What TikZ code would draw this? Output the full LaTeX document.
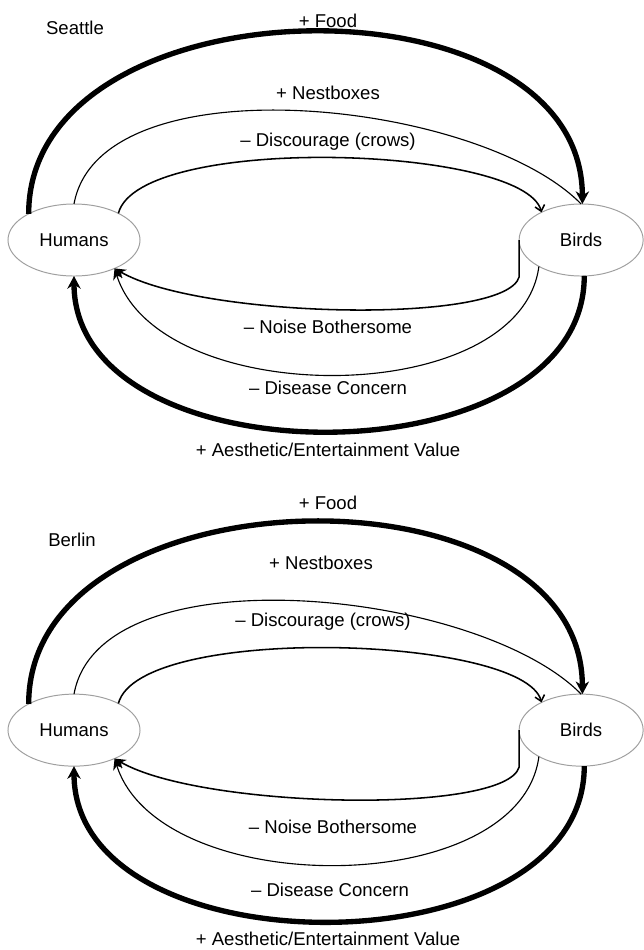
\documentclass[tikz,border=0pt]{standalone}
\usepackage{fontspec}
\setmainfont{Liberation Sans}
\usetikzlibrary{arrows.meta, positioning, shapes.geometric}
\tikzset{
    >=Stealth, % default arrow tip
    actor/.style={ellipse, draw=gray!75, line width=0.7pt, inner sep=0pt, outer sep=0pt, minimum width=3.3cm, minimum height=1.8cm}, % the two actors
    heavy/.style={line width=3.8pt, -{Stealth[length=9pt,width=9.5pt]}}, % strong links
    plain/.style={line width=1.1pt, -{Stealth[length=8pt,width=7pt]}}, % normal links
    faint/.style={line width=0.8pt, -{Stealth[length=8pt,width=7pt]}}, % weak links
    merged/.style={line width=0.8pt}, % runs into another tip
    barb/.style={line width=1.1pt, -{Straight Barb[length=4pt,width=7pt]}}, % open tip
    every node/.style={font=\fontsize{13.2}{15}\selectfont},
}

\begin{document}
\begin{tikzpicture}[x=0.025cm, y=-0.025cm]
    \useasboundingbox (0,0) rectangle (644,950);

    % Seattle
    \node[actor] (h1) at (74,240) {Humans};
    \node[actor, minimum width=3.1cm, right=9.475cm of h1] (b1) {Birds};
    \node (city1) at (75,28) {Seattle};

    \draw[heavy] (h1.150) .. controls +(0,-236) and +(0,-236) .. (b1.88);
    \draw[merged] (h1.north) .. controls +(26,-144) and +(-103,-105) .. (b1.90);
    \draw[barb] (h1.31) .. controls +(21,-80) and +(-18,-67) .. (b1.145);
    \draw[plain] (b1.west) -- ++(0,37) .. controls +(-14,48) and +(86,50) .. (h1.-35);
    \draw[faint] (b1.212) .. controls +(-19,144) and +(45,142) .. (h1.-35);
    \draw[heavy] (b1.-85) .. controls +(0,207) and +(0,207) .. (h1.south);

    \node (food1) at (328,21) {+ Food};
    \node (nest1) at (328,93) {+ Nestboxes};
    \node (disc1) at (328,142) {– Discourage (crows)};
    \node (noise1) at (328,327) {– Noise Bothersome};
    \node (dis1) at (328,388) {– Disease Concern};
    \node (aes1) at (328,450) {+ Aesthetic/Entertainment Value};

    % Berlin
    \node[actor, below=10.45cm of h1] (h2) {Humans};
    \node[actor, minimum width=3.1cm, right=9.475cm of h2] (b2) {Birds};
    \node (city2) at (72,540) {Berlin};

    \draw[heavy] (h2.150) .. controls +(0,-236) and +(0,-236) .. (b2.88);
    \draw[merged] (h2.north) .. controls +(26,-144) and +(-103,-105) .. (b2.90);
    \draw[barb] (h2.31) .. controls +(21,-80) and +(-18,-67) .. (b2.145);
    \draw[plain] (b2.west) -- ++(0,37) .. controls +(-14,48) and +(86,50) .. (h2.-35);
    \draw[faint] (b2.212) .. controls +(-19,144) and +(45,142) .. (h2.-35);
    \draw[heavy] (b2.-85) .. controls +(0,207) and +(0,207) .. (h2.south);

    \node (food2) at (328,503) {+ Food};
    \node (nest2) at (321,563) {+ Nestboxes};
    \node (disc2) at (323,622) {– Discourage (crows)};
    \node (noise2) at (333,827) {– Noise Bothersome};
    \node (dis2) at (330,890) {– Disease Concern};
    \node (aes2) at (328,939) {+ Aesthetic/Entertainment Value};
\end{tikzpicture}
\end{document}
